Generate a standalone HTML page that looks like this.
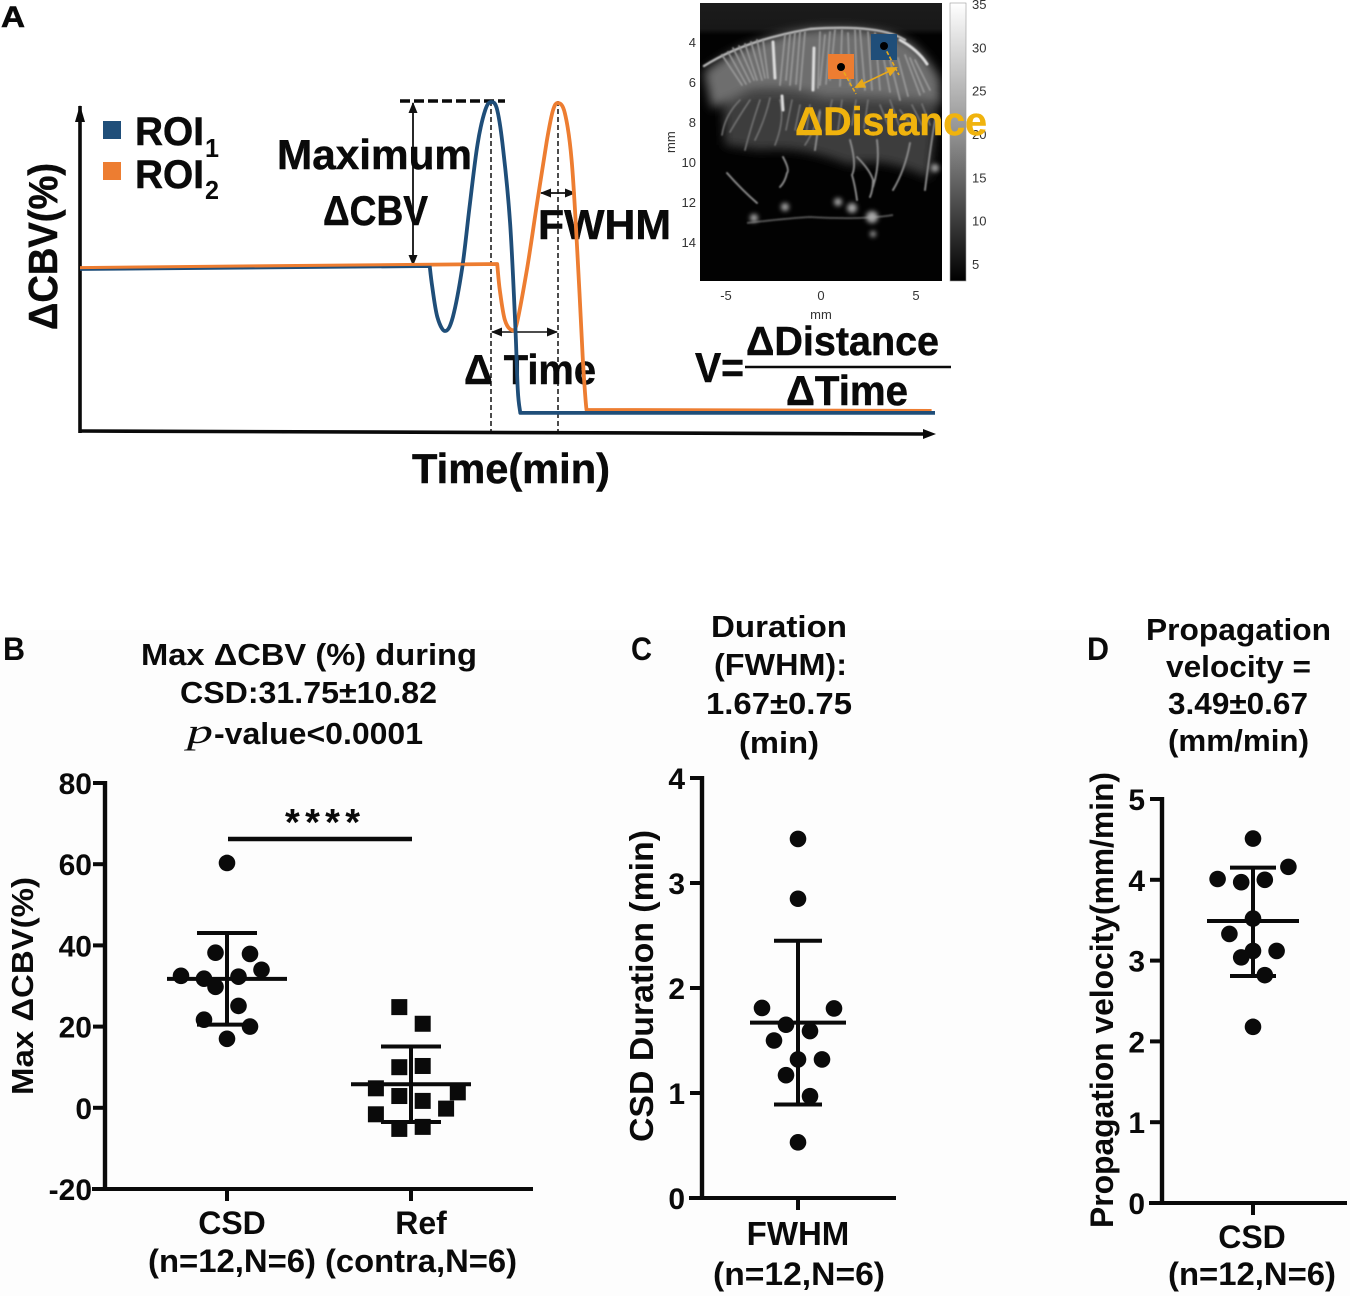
<!DOCTYPE html>
<html lang="en">
<head>
<meta charset="utf-8">
<title>CSD hemodynamics figure</title>
<style>
html,body{margin:0;padding:0;background:#fff;}
svg{display:block;}
text{font-family:"Liberation Sans",sans-serif;font-weight:bold;fill:#0a0a0a;}
.t{font-size:31px;}
.x{font-size:32px;}
.a{font-size:42px;stroke:#0a0a0a;stroke-width:.5px;}
.lt{font-size:13px;fill:#333;font-weight:normal;-webkit-text-stroke:.3px #333;}
</style>
</head>
<body>
<svg id="fig" xmlns="http://www.w3.org/2000/svg" width="1350" height="1296" viewBox="0 0 1350 1296">
<defs>
<marker id="ah" markerWidth="11" markerHeight="9" refX="10" refY="4.5" orient="auto-start-reverse" markerUnits="userSpaceOnUse"><path d="M0 0L11 4.5L0 9Z" fill="#111"/></marker>
<marker id="ay" markerWidth="11" markerHeight="10" refX="9" refY="5" orient="auto-start-reverse" markerUnits="userSpaceOnUse"><path d="M0 0L11 5L0 10Z" fill="#e8a91a"/></marker>
<linearGradient id="cb" x1="0" y1="0" x2="0" y2="1"><stop offset="0" stop-color="#fff"/><stop offset=".5" stop-color="#8a8a8a"/><stop offset="1" stop-color="#000"/></linearGradient>
<linearGradient id="topband" x1="0" y1="0" x2="0" y2="1"><stop offset="0" stop-color="#1c1c1c"/><stop offset=".8" stop-color="#181818"/><stop offset="1" stop-color="#181818" stop-opacity="0"/></linearGradient>
<filter id="b1" x="-20%" y="-20%" width="140%" height="140%"><feGaussianBlur stdDeviation=".8"/></filter>
<filter id="b6" x="-20%" y="-20%" width="140%" height="140%"><feGaussianBlur stdDeviation="5"/></filter>
<filter id="b3" x="-50%" y="-50%" width="200%" height="200%"><feGaussianBlur stdDeviation="2.5"/></filter>
<clipPath id="bc"><rect x="700" y="3" width="242" height="278"/></clipPath>
</defs>
<rect x="0" y="0" width="1350" height="1296" fill="#fff"/>
<rect x="0" y="630" width="1350" height="666" fill="#fdfdfd"/>

<text x="1" y="27" font-size="30" stroke="#0a0a0a" stroke-width=".6" textLength="24" lengthAdjust="spacingAndGlyphs">A</text>

<g id="panelA">
  <line x1="491" y1="101" x2="491" y2="431" stroke="#111" stroke-width="1.5" stroke-dasharray="5 3"/>
  <line x1="558" y1="101" x2="558" y2="431" stroke="#111" stroke-width="1.5" stroke-dasharray="5 3"/>
  <path d="M80 433L80 106" fill="none" stroke="#0a0a0a" stroke-width="3.6"/>
  <path d="M80 105L75 122H85Z" fill="#0a0a0a"/>
  <path d="M79 431L926 434" fill="none" stroke="#0a0a0a" stroke-width="3.6"/>
  <path d="M936 434L923 429V439Z" fill="#0a0a0a"/>
  <line x1="400" y1="101" x2="505" y2="101" stroke="#0a0a0a" stroke-width="3.4" stroke-dasharray="10 4"/>
  <line x1="413" y1="103" x2="413" y2="265" stroke="#111" stroke-width="1.8" marker-start="url(#ah)" marker-end="url(#ah)"/>
  <line x1="492" y1="332" x2="557" y2="332" stroke="#111" stroke-width="1.6" marker-start="url(#ah)" marker-end="url(#ah)"/>
  <line x1="541" y1="193" x2="575" y2="193" stroke="#111" stroke-width="1.8" marker-start="url(#ah)" marker-end="url(#ah)"/>
  <rect x="103" y="121" width="18" height="18" fill="#1f4e79"/>
  <rect x="103" y="162" width="18" height="18" fill="#ed7d31"/>
  <text class="a" x="135" y="145" style="font-size:40px" textLength="69" lengthAdjust="spacingAndGlyphs">ROI</text>
  <text x="205" y="157" font-size="26" textLength="14" lengthAdjust="spacingAndGlyphs">1</text>
  <text class="a" x="135" y="188" style="font-size:40px" textLength="69" lengthAdjust="spacingAndGlyphs">ROI</text>
  <text x="205" y="199" font-size="26" textLength="14" lengthAdjust="spacingAndGlyphs">2</text>
  <text class="a" x="277" y="169" textLength="195" lengthAdjust="spacingAndGlyphs">Maximum</text>
  <text class="a" x="323" y="225" textLength="105" lengthAdjust="spacingAndGlyphs">ΔCBV</text>
  <text class="a" x="538" y="239" textLength="133" lengthAdjust="spacingAndGlyphs">FWHM</text>
  <text class="a" x="464" y="384" textLength="132" lengthAdjust="spacingAndGlyphs">Δ Time</text>
  <text class="a" x="412" y="483" textLength="198" lengthAdjust="spacingAndGlyphs">Time(min)</text>
  <text class="a" transform="translate(57,330) rotate(-90)" style="font-size:41px" textLength="167" lengthAdjust="spacingAndGlyphs">ΔCBV(%)</text>
</g>

<g>
  <rect x="700" y="3" width="242" height="278" fill="#020202"/>
  <g clip-path="url(#bc)">
    <rect x="700" y="3" width="242" height="32" fill="url(#topband)"/>
    <path d="M722 90Q790 84 850 92Q900 92 938 100L930 178Q880 155 850 165Q800 145 760 150L725 145Z" fill="#3c3c3c" filter="url(#b6)"/>
    <path d="M704 72Q745 38 810 29Q880 24 912 44Q932 62 940 80L940 104Q880 98 825 98Q790 88 750 92L712 108Z" fill="#6e6e6e" filter="url(#b6)"/>
    <g fill="none" stroke="#b8b8b8" stroke-width="2.4" filter="url(#b1)" stroke-linecap="round">
      <path d="M704 66Q745 40 810 29Q880 24 905 40"/>
    </g>
    <g fill="none" stroke="#989898" stroke-width="1.7" filter="url(#b1)" stroke-linecap="round">
      <path d="M722 55L742 85M728 52L746 84M733 48L750 82M739 46L754 80M745 44L757 80M751 42L762 80M757 40L765 78M763 40L768 78M785 35L780 85M790 34L786 80M795 33L790 85M800 32L796 84M805 32L800 90M820 32L818 88M825 35L820 85M830 32L826 84M835 30L830 80M842 30L840 86M848 33L850 85M855 30L857 88M860 30L865 90M868 32L872 90M875 33L880 90M884 60L890 92M890 60L900 100M898 58L908 96M905 55L920 95M910 58L924 92M915 60L930 90"/>
    </g>
    <g fill="none" stroke="#727272" stroke-width="1.6" filter="url(#b1)" stroke-linecap="round">
      <path d="M740 100Q725 115 722 135M750 100Q738 118 730 132M760 100Q750 130 745 150M770 98Q765 120 755 140M780 100Q785 120 775 145M792 100L786 130M800 105L795 130M810 105L806 135M820 110Q815 130 805 145M832 100L826 130M842 100L838 130M856 100L852 125M868 100L864 128M880 105L890 130M890 100L900 128M900 110L915 130M912 105L922 125M922 104L930 125"/>
    </g>
    <g fill="none" stroke="#8c8c8c" stroke-width="1.9" filter="url(#b1)" stroke-linecap="round">
      <path d="M850 140Q857 165 852 175Q855 185 857 200M877 140Q880 165 873 187M910 143Q905 170 893 190M857 157Q870 170 873 180Q873 190 870 197M783 157Q790 170 787 173Q785 182 780 187M727 173Q742 190 757 203M820 112Q818 130 815 150M935 120Q930 150 925 190"/>
    </g>
    <path d="M747 223Q790 218 810 217Q860 220 893 215" fill="none" stroke="#4f4f4f" stroke-width="2" filter="url(#b1)"/>
    <g fill="none" stroke="#dcdcdc" stroke-width="3" filter="url(#b1)" stroke-linecap="round">
      <path d="M773 42L775 78M814 48L813 90M900 40Q918 50 927 64M782 96L783 110"/>
    </g>
    <g fill="#a8a8a8" filter="url(#b3)">
      <circle cx="754" cy="218" r="4"/><circle cx="872" cy="217" r="6"/><circle cx="852" cy="208" r="5"/><circle cx="838" cy="202" r="4"/><circle cx="785" cy="207" r="4"/><circle cx="935" cy="168" r="4"/><circle cx="873" cy="234" r="3"/>
    </g>
  </g>
  <rect x="871" y="34" width="26" height="26" fill="#1f4e79"/>
  <rect x="828" y="54" width="26" height="25" fill="#ed7d31"/>
  <line x1="884" y1="46" x2="899" y2="75" stroke="#e8a91a" stroke-width="1.6" stroke-dasharray="4 2"/>
  <line x1="841" y1="67" x2="856" y2="94" stroke="#e8a91a" stroke-width="1.6" stroke-dasharray="4 2"/>
  <circle cx="884" cy="46" r="4" fill="#000"/>
  <circle cx="841" cy="67" r="4" fill="#000"/>
  <line x1="856" y1="87" x2="896" y2="68" stroke="#e8a91a" stroke-width="1.6" marker-start="url(#ay)" marker-end="url(#ay)"/>
  <rect x="950" y="3" width="16" height="278" fill="url(#cb)" stroke="#999" stroke-width=".6"/>
  <g id="mapLabels"></g>
  <text x="795" y="135" font-size="40" stroke="#f0b30d" stroke-width=".4" style="fill:#f0b30d" textLength="192" lengthAdjust="spacingAndGlyphs">ΔDistance</text>
</g>

<g>
  <text class="a" x="695" y="382" textLength="49" lengthAdjust="spacingAndGlyphs">V=</text>
  <text class="a" x="746" y="355" style="font-size:41px" textLength="193" lengthAdjust="spacingAndGlyphs">ΔDistance</text>
  <line x1="745" y1="367" x2="951" y2="367" stroke="#0a0a0a" stroke-width="2.4"/>
  <text class="a" x="786" y="405" textLength="122" lengthAdjust="spacingAndGlyphs">ΔTime</text>
</g>

<text x="3" y="660" font-size="32" textLength="22" lengthAdjust="spacingAndGlyphs">B</text>
<text x="631" y="660" font-size="32" textLength="21" lengthAdjust="spacingAndGlyphs">C</text>
<text x="1087" y="660" font-size="32" textLength="22" lengthAdjust="spacingAndGlyphs">D</text>

<g>
  <text class="t" x="141" y="665" textLength="336" lengthAdjust="spacingAndGlyphs">Max ΔCBV (%) during</text>
  <text class="t" x="180" y="703" textLength="257" lengthAdjust="spacingAndGlyphs">CSD:31.75±10.82</text>
  <text x="187" y="743" font-size="35" style="font-family:'Liberation Serif',serif;font-style:italic;font-weight:normal" textLength="26" lengthAdjust="spacingAndGlyphs">p</text>
  <text class="t" x="214" y="744" textLength="209" lengthAdjust="spacingAndGlyphs">-value&lt;0.0001</text>
</g>
<g>
  <text class="t" x="711" y="637" textLength="136" lengthAdjust="spacingAndGlyphs">Duration</text>
  <text class="t" x="714" y="675" textLength="133" lengthAdjust="spacingAndGlyphs">(FWHM):</text>
  <text class="t" x="706" y="714" textLength="146" lengthAdjust="spacingAndGlyphs">1.67±0.75</text>
  <text class="t" x="739" y="753" textLength="80" lengthAdjust="spacingAndGlyphs">(min)</text>
</g>
<g>
  <text class="t" x="1146" y="640" textLength="185" lengthAdjust="spacingAndGlyphs">Propagation</text>
  <text class="t" x="1166" y="677" textLength="145" lengthAdjust="spacingAndGlyphs">velocity =</text>
  <text class="t" x="1168" y="714" textLength="140" lengthAdjust="spacingAndGlyphs">3.49±0.67</text>
  <text class="t" x="1168" y="751" textLength="141" lengthAdjust="spacingAndGlyphs">(mm/min)</text>
</g>

<g id="panelB">
  <text class="t" transform="translate(33,1095) rotate(-90)" textLength="218" lengthAdjust="spacingAndGlyphs">Max ΔCBV(%)</text>
  <text class="x" x="232" y="1234" text-anchor="middle">CSD</text>
  <text class="x" x="148" y="1272" textLength="168" lengthAdjust="spacingAndGlyphs">(n=12,N=6)</text>
  <text class="x" x="421" y="1234" text-anchor="middle">Ref</text>
  <text class="x" x="325" y="1272" textLength="192" lengthAdjust="spacingAndGlyphs">(contra,N=6)</text>
  <line x1="228" y1="839" x2="412" y2="839" stroke="#0a0a0a" stroke-width="4.5"/>
  <text x="285" y="835" font-size="38" textLength="75" lengthAdjust="spacing">****</text>
</g>
<g id="panelC">
  <text class="t" transform="translate(653,1142) rotate(-90)" style="font-size:33px" textLength="312" lengthAdjust="spacingAndGlyphs">CSD Duration (min)</text>
  <text class="x" x="798" y="1245" text-anchor="middle" style="font-size:33px">FWHM</text>
  <text class="x" x="713" y="1285" textLength="172" lengthAdjust="spacingAndGlyphs">(n=12,N=6)</text>
</g>
<g id="panelD">
  <text class="t" transform="translate(1113,1228) rotate(-90)" style="font-size:32px" textLength="456" lengthAdjust="spacingAndGlyphs">Propagation velocity(mm/min)</text>
  <text class="x" x="1252" y="1248" text-anchor="middle">CSD</text>
  <text class="x" x="1168" y="1285" textLength="168" lengthAdjust="spacingAndGlyphs">(n=12,N=6)</text>
</g>
</svg>
<script>
/* Panel A schematic curves (time in % of axis, value in % of axis) */
const roi1Time = [0,40.9,41.2,41.8,42.7,43.6,44.7,45.6,46.5,47.4,48.1,48.8,49.5,50.3,50.9,51.2,51.5,100];
const roi1Value = [49.4,50.3,43.9,34.8,30.6,34.8,49.7,69.1,87.3,97.6,100,97.6,85.5,63.3,33,12.7,5.8,5.8];
const roi2Time = [0,48.8,49.1,49.7,50.5,51.1,52.3,53.5,54.6,55.3,55.9,56.7,57.5,58.2,58.8,59.2,59.4,99.6];
const roi2Value = [49.7,50.9,43,33.9,30.9,33,49.7,70,88.2,97.3,99.7,96.7,82.4,53,22.7,7.6,6.7,6.4];

/* Panel B */
const bTicks = [80,60,40,20,0,-20];
const csdValues = [60.3,38.2,37.9,34,32.5,31.8,32.3,29.8,25.1,21.7,20,17];
const csdSlots = [0,-1,2,3,-4,-2,1,-1,1,-2,2,0];
const csdMean = 31.75;
const csdUpper = 43.05;
const csdLower = 20.5;
const refValues = [24.8,20.7,10,10.3,4.8,3.8,2.9,1.7,-0.2,-1.6,-5.2,-4.7];
const refSlots = [-1,1,-1,1,-3,4,-1,1,3,-3,-1,1];
const refMean = 5.8;
const refUpper = 15.1;
const refLower = -3.5;

/* Panel C */
const cTicks = [4,3,2,1,0];
const fwhmValues = [3.42,2.85,1.81,1.805,1.65,1.59,1.5,1.32,1.32,1.17,0.97,0.53];
const fwhmSlots = [0,0,-3,3,-1,1,-2,0,2,-1,1,0];
const fwhmMean = 1.67;
const fwhmUpper = 2.45;
const fwhmLower = 0.89;

/* Panel D */
const dTicks = [5,4,3,2,1,0];
const velocityValues = [4.51,4.16,4.01,3.97,4.0,3.52,3.33,3.12,3.12,3.04,2.82,2.18];
const velocitySlots = [0,3,-3,-1,1,0,-2,0,2,-1,1,0];
const velocityMean = 3.49;
const velocityUpper = 4.15;
const velocityLower = 2.81;

/* Map labels */
const mapYTicks = [4,6,8,10,12,14];
const mapXTicks = [-5,0,5];
const colorbarTicks = [35,30,25,20,15,10,5];

const NS = 'http://www.w3.org/2000/svg';
function mk(tag, attrs, parent, txt){
  const el = document.createElementNS(NS, tag);
  for(const k in attrs){ el.setAttribute(k, attrs[k]); }
  if(txt !== undefined){ el.textContent = txt; }
  parent.appendChild(el);
  return el;
}

/* Panel A curves: straight baselines, smooth transient */
const panelA = document.getElementById('panelA');
const aX = t => 80 + t * 8.55;
const aY = v => 432 - v * 3.3;
function curvePath(ts, vs){
  const p = ts.map((t,i) => [aX(t), aY(vs[i])]);
  const n = p.length;
  let d = 'M' + p[0][0].toFixed(1) + ' ' + p[0][1].toFixed(1) + 'L' + p[1][0].toFixed(1) + ' ' + p[1][1].toFixed(1);
  for(let i = 1; i < n - 2; i++){
    const a = i - 1 < 1 ? p[i] : p[i-1];
    const b = p[i];
    const c = p[i+1];
    const e = i + 2 > n - 2 ? p[i+1] : p[i+2];
    d += 'C' + (b[0]+(c[0]-a[0])/6).toFixed(1) + ' ' + (b[1]+(c[1]-a[1])/6).toFixed(1) + ' ' +
         (c[0]-(e[0]-b[0])/6).toFixed(1) + ' ' + (c[1]-(e[1]-b[1])/6).toFixed(1) + ' ' +
         c[0].toFixed(1) + ' ' + c[1].toFixed(1);
  }
  d += 'L' + p[n-1][0].toFixed(1) + ' ' + p[n-1][1].toFixed(1);
  return d;
}
const roi2Line = mk('path', {d:curvePath(roi2Time, roi2Value), fill:'none', stroke:'#ed7d31', 'stroke-width':3.8, 'stroke-linejoin':'round'}, panelA);


const roi1Line = mk('path', {d:curvePath(roi1Time, roi1Value), fill:'none', stroke:'#1f4e79', 'stroke-width':3.8, 'stroke-linejoin':'round'}, panelA);


const roi2Base = mk('path', {d:'M' + aX(roi2Time[0]) + ' ' + aY(roi2Value[0]) + 'L' + aX(roi2Time[1]) + ' ' + aY(roi2Value[1]), fill:'none', stroke:'#ed7d31', 'stroke-width':2.2}, panelA);



/* Scatter panels */
function axes(parent, o){
  const y = v => o.y0 + (v - o.vMin) * (o.yTop - o.y0) / (o.vMax - o.vMin);
  const yAxis = mk('line', {x1:o.ax, y1:y(o.vMax)-2, x2:o.ax, y2:o.y0+2, stroke:'#0a0a0a', 'stroke-width':4.4}, parent);
  
  
  const xAxis = mk('line', {x1:o.ax-13, y1:o.y0, x2:o.axEnd, y2:o.y0, stroke:'#0a0a0a', 'stroke-width':4}, parent);
  
  
  o.ticks.forEach(v => {
    const tick = mk('line', {x1:o.ax-12, y1:y(v), x2:o.ax, y2:y(v), stroke:'#0a0a0a', 'stroke-width':4}, parent);
    
    
    const label = mk('text', {x:o.labelX, y:y(v)+11, 'text-anchor':'end', 'font-size':30}, parent, String(v));
    
    
  });
  return y;
}
function xTick(parent, x, y0){
  const tick = mk('line', {x1:x, y1:y0, x2:x, y2:y0+12, stroke:'#0a0a0a', 'stroke-width':4}, parent);
  
  
}
function errorBars(parent, y, cx, mean, upper, lower, meanHalf, capHalf, w){
  const stem = mk('line', {x1:cx, y1:y(upper), x2:cx, y2:y(lower), stroke:'#0a0a0a', 'stroke-width':w}, parent);
  
  
  const meanLine = mk('line', {x1:cx-meanHalf, y1:y(mean), x2:cx+meanHalf, y2:y(mean), stroke:'#0a0a0a', 'stroke-width':w}, parent);
  
  
  const capU = mk('line', {x1:cx-capHalf, y1:y(upper), x2:cx+capHalf, y2:y(upper), stroke:'#0a0a0a', 'stroke-width':w}, parent);
  
  
  const capL = mk('line', {x1:cx-capHalf, y1:y(lower), x2:cx+capHalf, y2:y(lower), stroke:'#0a0a0a', 'stroke-width':w}, parent);
  
  
}
function circles(parent, y, cx, vals, slots, step, r){
  vals.forEach((v,i) => {
    const dot = mk('circle', {cx:cx + slots[i]*step, cy:y(v), r:r, fill:'#0a0a0a'}, parent);
    
    
  });
}

const pB = document.getElementById('panelB');
const yB = axes(pB, {ax:105, axEnd:533, y0:1189, yTop:783, vMin:-20, vMax:80, ticks:bTicks, labelX:92});
const bCsdX = 227;
const bRefX = 411;
xTick(pB, bCsdX, 1189);
xTick(pB, bRefX, 1189);
errorBars(pB, yB, bCsdX, csdMean, csdUpper, csdLower, 60, 30, 4);
errorBars(pB, yB, bRefX, refMean, refUpper, refLower, 60, 30, 4);
circles(pB, yB, bCsdX, csdValues, csdSlots, 11.5, 8.3);
refValues.forEach((v,i) => {
  const sq = mk('rect', {x:bRefX + refSlots[i]*11.7 - 8, y:yB(v)-8, width:16, height:16, fill:'#0a0a0a'}, pB);
  
  
});

const pC = document.getElementById('panelC');
const yC = axes(pC, {ax:702, axEnd:896, y0:1198, yTop:778, vMin:0, vMax:4, ticks:cTicks, labelX:685});
const cX = 798;
xTick(pC, cX, 1198);
errorBars(pC, yC, cX, fwhmMean, fwhmUpper, fwhmLower, 48, 24, 4);
circles(pC, yC, cX, fwhmValues, fwhmSlots, 12, 8.3);

const pD = document.getElementById('panelD');
const yD = axes(pD, {ax:1162, axEnd:1347, y0:1203, yTop:799, vMin:0, vMax:5, ticks:dTicks, labelX:1145});
const dX = 1253;
xTick(pD, dX, 1203);
errorBars(pD, yD, dX, velocityMean, velocityUpper, velocityLower, 46, 23, 4);
circles(pD, yD, dX, velocityValues, velocitySlots, 11.8, 8.3);

/* CBV map tick labels */
const mapG = document.getElementById('mapLabels');
const mapY = v => 43 + (v - 4) * 20;
const mapX = v => 821 + v * 19;
const barY = v => 265 - (v - 5) * 8.67;
mapYTicks.forEach(v => {
  const t = mk('text', {x:696, y:mapY(v)+4, 'text-anchor':'end', 'class':'lt'}, mapG, String(v));
  
  
});
mapXTicks.forEach(v => {
  const t = mk('text', {x:mapX(v), y:300, 'text-anchor':'middle', 'class':'lt'}, mapG, String(v));
  
  
});
colorbarTicks.forEach(v => {
  const t = mk('text', {x:972, y:barY(v)+4, 'class':'lt'}, mapG, String(v));
  
  
});
const mapXTitle = mk('text', {x:821, y:319, 'text-anchor':'middle', 'class':'lt'}, mapG, 'mm');


const mapYTitle = mk('text', {transform:'translate(675,153) rotate(-90)', 'class':'lt'}, mapG, 'mm');


</script>
</body>
</html>
